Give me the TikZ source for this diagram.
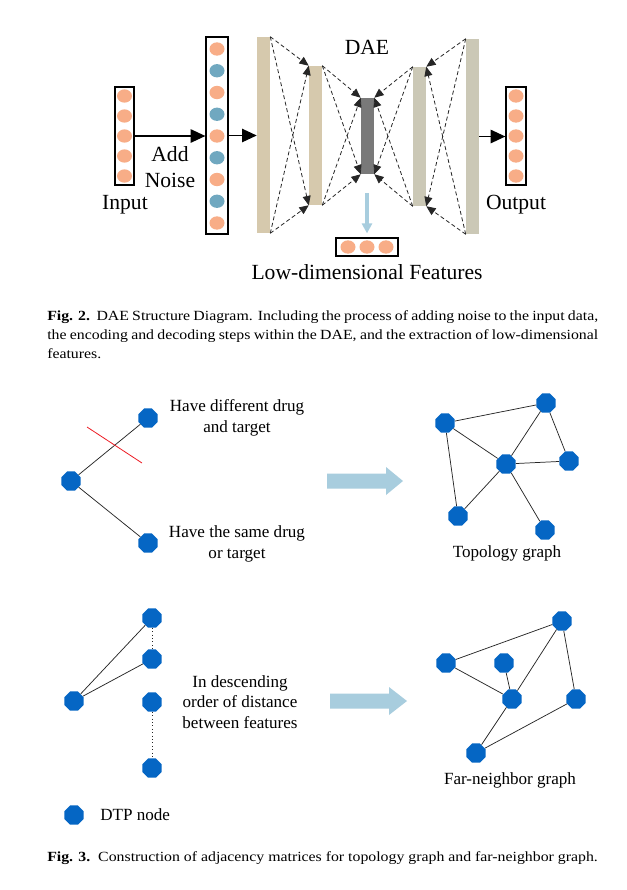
\documentclass[tikz,border=0pt]{standalone}
\usepackage{fontspec}
\setmainfont{Liberation Serif}
\newfontfamily\capfont{Liberation Serif}[FakeStretch=1.13]
\usetikzlibrary{arrows.meta,shapes.geometric}
\definecolor{orng}{RGB}{248,173,135}
\definecolor{nblue}{RGB}{112,168,192}
\definecolor{tanA}{RGB}{214,201,173}
\definecolor{tanB}{RGB}{203,200,182}
\definecolor{darkc}{RGB}{121,121,121}
\definecolor{lblue}{RGB}{168,205,222}
\definecolor{dtp}{RGB}{5,102,196}
\definecolor{redl}{RGB}{237,28,36}
\begin{document}
\begin{tikzpicture}[x=0.75pt,y=-0.75pt,
  layer/.style={rectangle, minimum width=9.75pt, inner sep=0pt},
  vbox/.style={rectangle, draw=black, line width=0.9pt, inner sep=0pt},
  dot/.style={ellipse, minimum width=11.25pt, minimum height=10pt, inner sep=0pt, fill=orng},
  bdot/.style={dot, fill=nblue},
  darr/.style={dash pattern=on 3pt off 2pt, line width=0.6pt, draw=black!85, -{Triangle[length=7pt,width=6pt]}},
  bigarr/.style={line width=1.1pt, -{Triangle[length=11pt,width=10pt]}},
  oct/.style={regular polygon, regular polygon sides=8, fill=dtp, minimum size=15.5pt, inner sep=0pt},
  gedge/.style={line width=0.55pt, draw=black!85},
  lbl/.style={font=\fontsize{16.2}{20}\selectfont, inner sep=0pt, align=center},
  txt/.style={font=\fontsize{12.8}{15.4}\selectfont, align=center, inner sep=0pt},
  captext/.style={font=\capfont\fontsize{10.5}{14.25}\selectfont, inner sep=0pt, anchor=north west}
]
\useasboundingbox[fill=white] (0,0) rectangle (626,890);

% ---------- Fig. 2 ----------
\node[vbox, minimum width=14.25pt, minimum height=73.5pt] (inbox) at (124.5,136) {};
\foreach \k/\y in {1/96,2/116,3/136,4/156,5/176}
  \node[dot] (in\k) at (124.5,\y) {};

\node[vbox, minimum width=16.5pt, minimum height=147.75pt] (noisy) at (217,135.5) {};
\foreach \k in {0,...,8}{
  \pgfmathsetmacro{\yy}{49+\k*21.75}
  \ifodd\k
    \node[bdot] (nz\k) at (217,\yy) {};
  \else
    \node[dot] (nz\k) at (217,\yy) {};
  \fi
}

\node[layer, fill=tanA, minimum height=147pt] (L1) at (263.5,135) {};
\node[layer, fill=tanA, minimum height=104.25pt] (L2) at (315.5,135.5) {};
\node[layer, fill=darkc, minimum height=57pt] (C) at (367.5,136) {};
\node[layer, fill=tanB, minimum height=104.25pt] (L4) at (419.5,136.5) {};
\node[layer, fill=tanB, minimum height=146.25pt] (L5) at (472.5,136.5) {};

\node[vbox, minimum width=15pt, minimum height=73.5pt] (outbox) at (516,136) {};
\foreach \k/\y in {1/96,2/116,3/136,4/156,5/176}
  \node[dot] (out\k) at (516,\y) {};

\node[vbox, minimum width=46.5pt, minimum height=13.5pt] (low) at (367,247) {};
\foreach \k/\x in {1/348,2/367,3/386}
  \node[dot] (lw\k) at (\x,247) {};

% big arrows
\draw[bigarr] (inbox.east) -- (inbox.east -| noisy.west);
\draw[bigarr] (noisy.east) -- (noisy.east -| L1.west);
\draw[bigarr] (L5.east) -- (L5.east -| outbox.west);

% dashed arrows
\foreach \a/\b in {L1.north east/L2.north west, L1.north east/L2.south west,
                   L1.south east/L2.north west, L1.south east/L2.south west,
                   L2.north east/C.north west, L2.north east/C.south west,
                   L2.south east/C.north west, L2.south east/C.south west,
                   L4.north west/C.north east, L4.north west/C.south east,
                   L4.south west/C.north east, L4.south west/C.south east,
                   L5.north west/L4.north east, L5.north west/L4.south east,
                   L5.south west/L4.north east, L5.south west/L4.south east}
  \draw[darr] (\a) -- (\b);

% light blue arrow
\coordinate (lbstart) at (367,193);
\draw[lblue, line width=3pt, -{Triangle[length=7.5pt,width=7.5pt]}, shorten >=3pt] (lbstart) -- (low.north);

% labels
\node[lbl] (addn) at (170,167) {Add\\Noise};
\node[lbl] (inl) at (125,205) {Input};
\node[lbl] (outl) at (516,205) {Output};
\node[lbl] (dae) at (367,47) {DAE};
\node[lbl] (lowl) at (367,272) {Low-dimensional Features};

\node[captext, text width=413.25pt, align=justify] (cap2) at (47,310)
  {\textbf{Fig. 2.}\ \ DAE Structure Diagram. Including the process of adding noise to the input data,\linebreak
   the encoding and decoding steps within the DAE, and the extraction of low-dimensional\linebreak features.};

% ---------- Fig. 3 top ----------
\node[oct] (a1) at (71,481) {};
\node[oct] (a2) at (148,418) {};
\node[oct] (a3) at (148,543) {};
\draw[gedge] (a1) -- (a2);
\draw[gedge] (a1) -- (a3);
\coordinate (r1) at (87,427);
\coordinate (r2) at (142,463);
\draw[redl, line width=0.6pt] (r1) -- (r2);
\node[txt] (t1) at (237,418) {Have different drug\\and target};
\node[txt] (t2) at (237,544) {Have the same drug\\or target};

\fill[lblue] (327,473.5) -- (386,473.5) -- (386,467) -- (403,481) -- (386,495) -- (386,488.5) -- (327,488.5) -- cycle;

\node[oct] (tA) at (445,423) {};
\node[oct] (tB) at (546,403) {};
\node[oct] (tC) at (506,464) {};
\node[oct] (tD) at (569,461) {};
\node[oct] (tE) at (458,516) {};
\node[oct] (tF) at (545,530) {};
\foreach \a/\b in {tA/tB,tA/tC,tA/tE,tB/tC,tB/tD,tC/tD,tC/tE,tC/tF}
  \draw[gedge] (\a) -- (\b);
\node[txt] (topl) at (507,553) {Topology graph};

% ---------- Fig. 3 bottom ----------
\node[oct] (m1) at (74,701) {};
\node[oct] (m2) at (152,618) {};
\node[oct] (m3) at (152,659) {};
\node[oct] (m4) at (152,702) {};
\node[oct] (m5) at (152,768) {};
\draw[gedge] (m1) -- (m2);
\draw[gedge] (m1) -- (m3);
\draw[gedge, dotted] (m2) -- (m3);
\draw[gedge, dotted] (m4) -- (m5);
\node[txt] (t3) at (240,702) {In descending\\order of distance\\between features};

\fill[lblue] (330,693.5) -- (389,693.5) -- (389,687) -- (407,701) -- (389,715) -- (389,708.5) -- (330,708.5) -- cycle;

\node[oct] (fG) at (562,621) {};
\node[oct] (fH) at (446,663) {};
\node[oct] (fI) at (504,663) {};
\node[oct] (fJ) at (512,699) {};
\node[oct] (fK) at (576,699) {};
\node[oct] (fL) at (476,753) {};
\foreach \a/\b in {fH/fG,fH/fJ,fI/fJ,fJ/fG,fG/fK,fJ/fL,fL/fK}
  \draw[gedge] (\a) -- (\b);
\node[txt] (farl) at (510,780) {Far-neighbor graph};

\node[oct] (leg) at (74,815) {};
\node[txt, anchor=west] (legt) at (100,815) {DTP node};

\node[captext, anchor=base west] (cap3) at (47,861)
  {\textbf{Fig. 3.}\ \ Construction of adjacency matrices for topology graph and far-neighbor graph.};
\end{tikzpicture}
\end{document}
